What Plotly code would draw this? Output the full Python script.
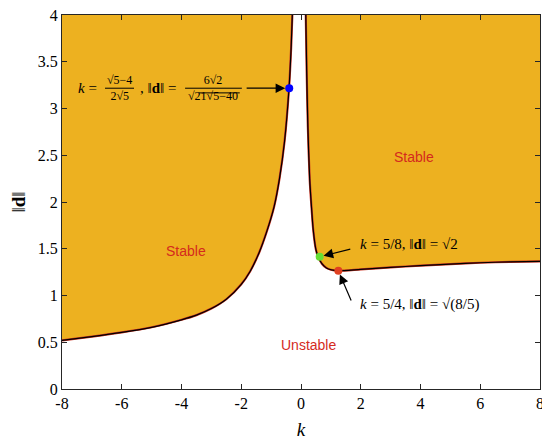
import plotly.graph_objects as go

# axis limits
K_MIN, K_MAX = -8, 8
D_MIN, D_MAX = 0, 4

# stability boundary, left branch (k < 0)
left_k = [-8, -7, -6, -5, -4, -3.5, -3, -2.5, -2, -1.7, -1.4, -1.15, -0.9, -0.72, -0.55, -0.4, -0.33, -0.29]
left_d = [0.52, 0.56, 0.605, 0.66, 0.74, 0.79, 0.86, 0.96, 1.12, 1.26, 1.46, 1.68, 1.95, 2.25, 2.65, 3.22, 3.65, 4.0]

# right branch (k > 0)
right_k = [0.16, 0.19, 0.23, 0.29, 0.35, 0.41, 0.5, 0.58, 0.7, 0.85, 1.0, 1.25, 2, 3, 4, 5, 6, 7, 8]
right_d = [4.0, 3.4, 2.8, 2.25, 1.95, 1.7, 1.49, 1.41, 1.34, 1.295, 1.275, 1.265, 1.28, 1.30, 1.32, 1.335, 1.35, 1.36, 1.366]

# special points
pt_k = [-0.3944, 0.625, 1.25]
pt_d = [3.217, 1.414, 1.265]
pt_colors = ["#0000ff", "#66dd33", "#e04020"]

x_ticks = [-8, -6, -4, -2, 0, 2, 4, 6, 8]
x_ticktext = ["-8", "-6", "-4", "-2", "0", "2", "4", "6", "8"]
y_ticks = [0, 0.5, 1, 1.5, 2, 2.5, 3, 3.5, 4]
y_ticktext = ["0", "0.5", "1", "1.5", "2", "2.5", "3", "3.5", "4"]

GOLD = "#EDB120"
SERIF = "Liberation Serif"

fig = go.Figure()

# stable regions
fig.add_trace(go.Scatter(
    x=left_k + [K_MIN], y=left_d + [D_MAX],
    fill="toself", fillcolor=GOLD, mode="lines", line=dict(width=0),
    showlegend=False, hoverinfo="skip",
))
fig.add_trace(go.Scatter(
    x=right_k + [K_MAX], y=right_d + [D_MAX],
    fill="toself", fillcolor=GOLD, mode="lines", line=dict(width=0),
    showlegend=False, hoverinfo="skip",
))

# boundary: red edge under a black line
for ks, ds in [(left_k, left_d), (right_k, right_d)]:
    fig.add_trace(go.Scatter(
        x=ks, y=ds, mode="lines", line=dict(color="#c83020", width=2.2, shape="spline", smoothing=0.7),
        showlegend=False, hoverinfo="skip",
    ))
    fig.add_trace(go.Scatter(
        x=ks, y=ds, mode="lines", line=dict(color="black", width=1.2, shape="spline", smoothing=0.7),
        showlegend=False,
    ))

fig.add_trace(go.Scatter(
    x=pt_k, y=pt_d, mode="markers",
    marker=dict(size=8, color=pt_colors),
    showlegend=False,
))

# arrows
arrows = [
    (pt_k[0], pt_d[0], -1.87, pt_d[0]),
    (pt_k[1], pt_d[1], 1.7, 1.50),
    (pt_k[2], pt_d[2], 1.7, 0.93),
]
for x, y, ax, ay in arrows:
    fig.add_annotation(
        x=x, y=y, ax=ax, ay=ay, xref="x", yref="y", axref="x", ayref="y",
        text="", showarrow=True, arrowhead=2, arrowsize=1.6, arrowwidth=1.2,
        arrowcolor="black", standoff=4,
    )

MATH = dict(family=SERIF, size=15, color="black")
SMALL = dict(family=SERIF, size=12, color="black")

# first label, built from pieces so the fractions stack
y0 = pt_d[0]
pieces = [
    (-7.16, "<i>k</i> =", MATH),
    (-6.08, "√5−4<br>2√5", SMALL),
    (-4.80, ", ‖<b>d</b>‖ =", MATH),
    (-2.94, "6√2<br>√21√5−40", SMALL),
]
for x, txt, f in pieces:
    fig.add_annotation(
        x=x, y=y0, xref="x", yref="y", text=txt, showarrow=False,
        xanchor="center", yanchor="middle", align="center", font=f,
    )
# fraction bars and the root's overline
for xa, xb, yy in [(-6.56, -5.59, y0), (-3.88, -1.98, y0), (-3.42, -2.05, y0 - 0.05)]:
    fig.add_shape(type="line", x0=xa, x1=xb, y0=yy, y1=yy, xref="x", yref="y",
                  line=dict(color="black", width=1))

labels = [
    (1.9, 1.55, "<i>k</i> = 5/8, ‖<b>d</b>‖ = √2"),
    (1.9, 0.90, "<i>k</i> = 5/4, ‖<b>d</b>‖ = √(8/5)"),
]
for x, y, txt in labels:
    fig.add_annotation(
        x=x, y=y, xref="x", yref="y", text=txt, showarrow=False,
        xanchor="left", yanchor="middle", font=MATH,
    )

region_labels = [(-3.85, 1.48, "Stable"), (3.78, 2.48, "Stable"), (0.25, 0.47, "Unstable")]
for x, y, txt in region_labels:
    fig.add_annotation(
        x=x, y=y, xref="x", yref="y", text=txt, showarrow=False,
        font=dict(family="Liberation Sans", size=14, color="#d42a1e"),
    )

axis_style = dict(
    showline=True, linecolor="#262626", linewidth=1, mirror="ticks",
    ticks="inside", ticklen=5, tickcolor="#262626",
    showgrid=False, zeroline=False, automargin=False,
    ticklabeloverflow="allow",
    tickfont=dict(family=SERIF, size=16, color="black"),
)

# the page body adds an 8 px margin, so the figure is sized to fill the rest
fig.update_layout(
    width=542, height=432,
    margin=dict(l=54, r=10, t=7, b=51),
    font=dict(family=SERIF, color="black"),
    plot_bgcolor="white", paper_bgcolor="white",
    showlegend=False,
    xaxis=dict(
        range=[K_MIN, K_MAX], tickvals=x_ticks, ticktext=x_ticktext,
        title=dict(text="<i>k</i>", font=dict(family=SERIF, size=19, color="black")),
        **axis_style,
    ),
    yaxis=dict(
        range=[D_MIN, D_MAX], tickvals=y_ticks, ticktext=y_ticktext,
        title=dict(text="‖<b>d</b>‖", font=dict(family=SERIF, size=19, color="black")),
        **axis_style,
    ),
)

fig.write_html("out.html")
